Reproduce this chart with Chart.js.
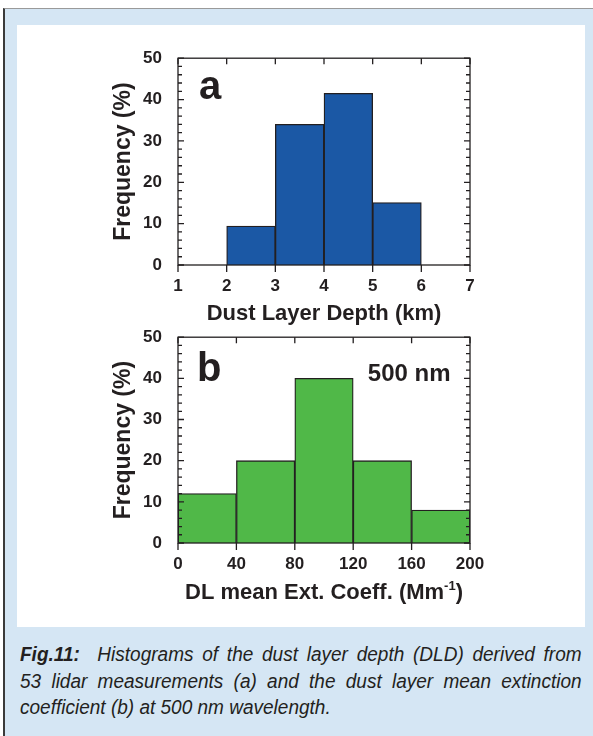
<!DOCTYPE html>
<html>
<head>
<meta charset="utf-8">
<script src="https://cdn.jsdelivr.net/npm/chart.js@4.4.1/dist/chart.umd.min.js"></script>
<style>
  html, body { margin: 0; padding: 0; background: #fff; }
  #page { position: relative; width: 593px; height: 736px; overflow: hidden; }
  #box { position: absolute; left: 3px; top: 8px; width: 590px; height: 728px; background: #d5e6f4;
         border-left: 2px solid #3a3a3a; border-top: 1px solid #9a9a9a; box-sizing: border-box; }
  #panel { position: absolute; left: 17px; top: 25px; width: 568px; height: 602px; background: #fff; }
  canvas { position: absolute; }
  #depth { left: 100px; top: 40px; }
  #ext { left: 100px; top: 319px; }
  /* narrow oblique caption: regular italic squeezed sideways */
  .cap { position: absolute; left: 20px; width: 576px; color: #231f20;
         font-family: "Liberation Sans", Arial, sans-serif;
         font-style: italic; font-size: 19.5px; line-height: 26.5px;
         transform: scaleX(0.975); transform-origin: 0 0; }
  .just { text-align: justify; text-align-last: justify; }
  .cap b { font-weight: bold; }
</style>
</head>
<body>
<div id="page">
  <div id="box"></div>
  <div id="panel"></div>
  <canvas id="depth" width="400" height="287"></canvas>
  <canvas id="ext" width="400" height="291"></canvas>
  <div class="cap just" style="top:641px"><b>Fig.11:</b>&nbsp; Histograms of the dust layer depth (DLD) derived from</div>
  <div class="cap just" style="top:667.5px">53 lidar measurements (a) and the dust layer mean extinction</div>
  <div class="cap" style="top:694px">coefficient (b) at 500 nm wavelength.</div>
</div>
<script>
// frequency axis, shared by both panels
const freqTicks = [0, 10, 20, 30, 40, 50];

// (a) dust layer depth, km
const depthEdges = [2, 3, 4, 5, 6];
const depthFreq = [9.4, 34.0, 41.5, 15.1];
const depthTicks = [1, 2, 3, 4, 5, 6, 7];

// (b) mean extinction coefficient, Mm-1
const extEdges = [0, 40, 80, 120, 160, 200];
const extFreq = [12, 20, 40, 20, 8];
const extTicks = [0, 40, 80, 120, 160, 200];

const INK = '#231f20';
const FONT = '"Liberation Sans", Arial, Helvetica, sans-serif';
Chart.defaults.font.family = FONT;

// box, inward ticks, panel letter and the optional labels
const frame = {
  id: 'frame',
  afterDatasetsDraw(chart, args, o) {
    const {ctx, chartArea: a, scales: {x, y}} = chart;
    ctx.save();
    ctx.strokeStyle = INK;
    ctx.lineWidth = 1.3;
    ctx.beginPath();
    for (let v = y.min; v <= y.max; v += o.minor) {
      const py = y.getPixelForValue(v);
      const len = v % 10 === 0 ? 6 : 4;
      ctx.moveTo(a.left, py); ctx.lineTo(a.left + len, py);
      ctx.moveTo(a.right, py); ctx.lineTo(a.right - len, py);
    }
    x.ticks.forEach(t => {
      const px = x.getPixelForValue(t.value);
      ctx.moveTo(px, a.top); ctx.lineTo(px, a.top + 6);
      ctx.moveTo(px, a.bottom); ctx.lineTo(px, a.bottom + 7);
    });
    ctx.stroke();
    ctx.strokeRect(a.left, a.top, a.width, a.height);

    ctx.fillStyle = INK;
    ctx.textBaseline = 'alphabetic';
    ctx.textAlign = 'left';
    ctx.font = `bold 40px ${FONT}`;
    ctx.fillText(o.tag, a.left + o.tagDx, a.top + o.tagDy);

    if (o.note) {
      ctx.textAlign = 'right';
      ctx.font = `bold 24px ${FONT}`;
      ctx.fillText(o.note, a.right - 19.5, a.top + 44);
    }

    if (o.xTitle) {
      // title with a superscript unit
      const [main, sup, tail] = o.xTitle;
      ctx.textAlign = 'left';
      ctx.font = `bold 22px ${FONT}`;
      const wMain = ctx.measureText(main).width;
      const wTail = ctx.measureText(tail).width;
      ctx.font = `bold 13px ${FONT}`;
      const wSup = ctx.measureText(sup).width;
      let x0 = (a.left + a.right) / 2 - (wMain + wSup + wTail) / 2;
      const base = a.bottom + 56;
      ctx.font = `bold 22px ${FONT}`;
      ctx.fillText(main, x0, base);
      ctx.font = `bold 13px ${FONT}`;
      ctx.fillText(sup, x0 + wMain, base - 9);
      ctx.font = `bold 22px ${FONT}`;
      ctx.fillText(tail, x0 + wMain + wSup, base);
    }
    ctx.restore();
  }
};

function histogram(id, edges, freq, xTicks, color, xTitle, axisHeight, extra) {
  const data = freq.map((f, i) => ({x: (edges[i] + edges[i + 1]) / 2, y: f}));
  return new Chart(document.getElementById(id), {
    type: 'bar',
    data: {
      datasets: [{
        data,
        backgroundColor: color,
        borderColor: INK,
        borderWidth: 1.3,
        barPercentage: 1,
        categoryPercentage: 1
      }]
    },
    options: {
      responsive: false,
      animation: false,
      layout: {padding: {top: 14, right: 30, left: 0, bottom: 0}},
      plugins: {
        legend: {display: false},
        tooltip: {enabled: false},
        frame: Object.assign({minor: 2}, extra)
      },
      scales: {
        x: {
          type: 'linear',
          offset: false,
          min: xTicks[0],
          max: xTicks[xTicks.length - 1],
          grid: {display: false},
          border: {display: false},
          afterBuildTicks: s => { s.ticks = xTicks.map(v => ({value: v})); },
          ticks: {padding: 3, color: INK, maxRotation: 0, autoSkip: false, font: {size: 17, weight: 'bold'}},
          title: {display: !!xTitle, text: xTitle, color: INK, font: {size: 22, weight: 'bold'}, padding: 0},
          afterFit: s => { s.height = axisHeight; }
        },
        y: {
          min: freqTicks[0],
          max: freqTicks[freqTicks.length - 1],
          grid: {display: false},
          border: {display: false},
          afterBuildTicks: s => { s.ticks = freqTicks.map(v => ({value: v})); },
          ticks: {padding: 8, color: INK, font: {size: 17, weight: 'bold'}},
          title: {display: true, text: 'Frequency (%)', color: INK, font: {size: 23, weight: 'bold'}, padding: {top: 10, bottom: 0}},
          afterFit: s => { s.width = 78; }
        }
      }
    },
    plugins: [frame]
  });
}

histogram('depth', depthEdges, depthFreq, depthTicks, '#1b58a5', 'Dust Layer Depth (km)', 62,
  {tag: 'a', tagDx: 21, tagDy: 41});
histogram('ext', extEdges, extFreq, extTicks, '#50b848', null, 67,
  {tag: 'b', tagDx: 19, tagDy: 44, note: '500 nm', xTitle: ['DL mean Ext. Coeff. (Mm', '-1', ')']});
</script>
</body>
</html>
